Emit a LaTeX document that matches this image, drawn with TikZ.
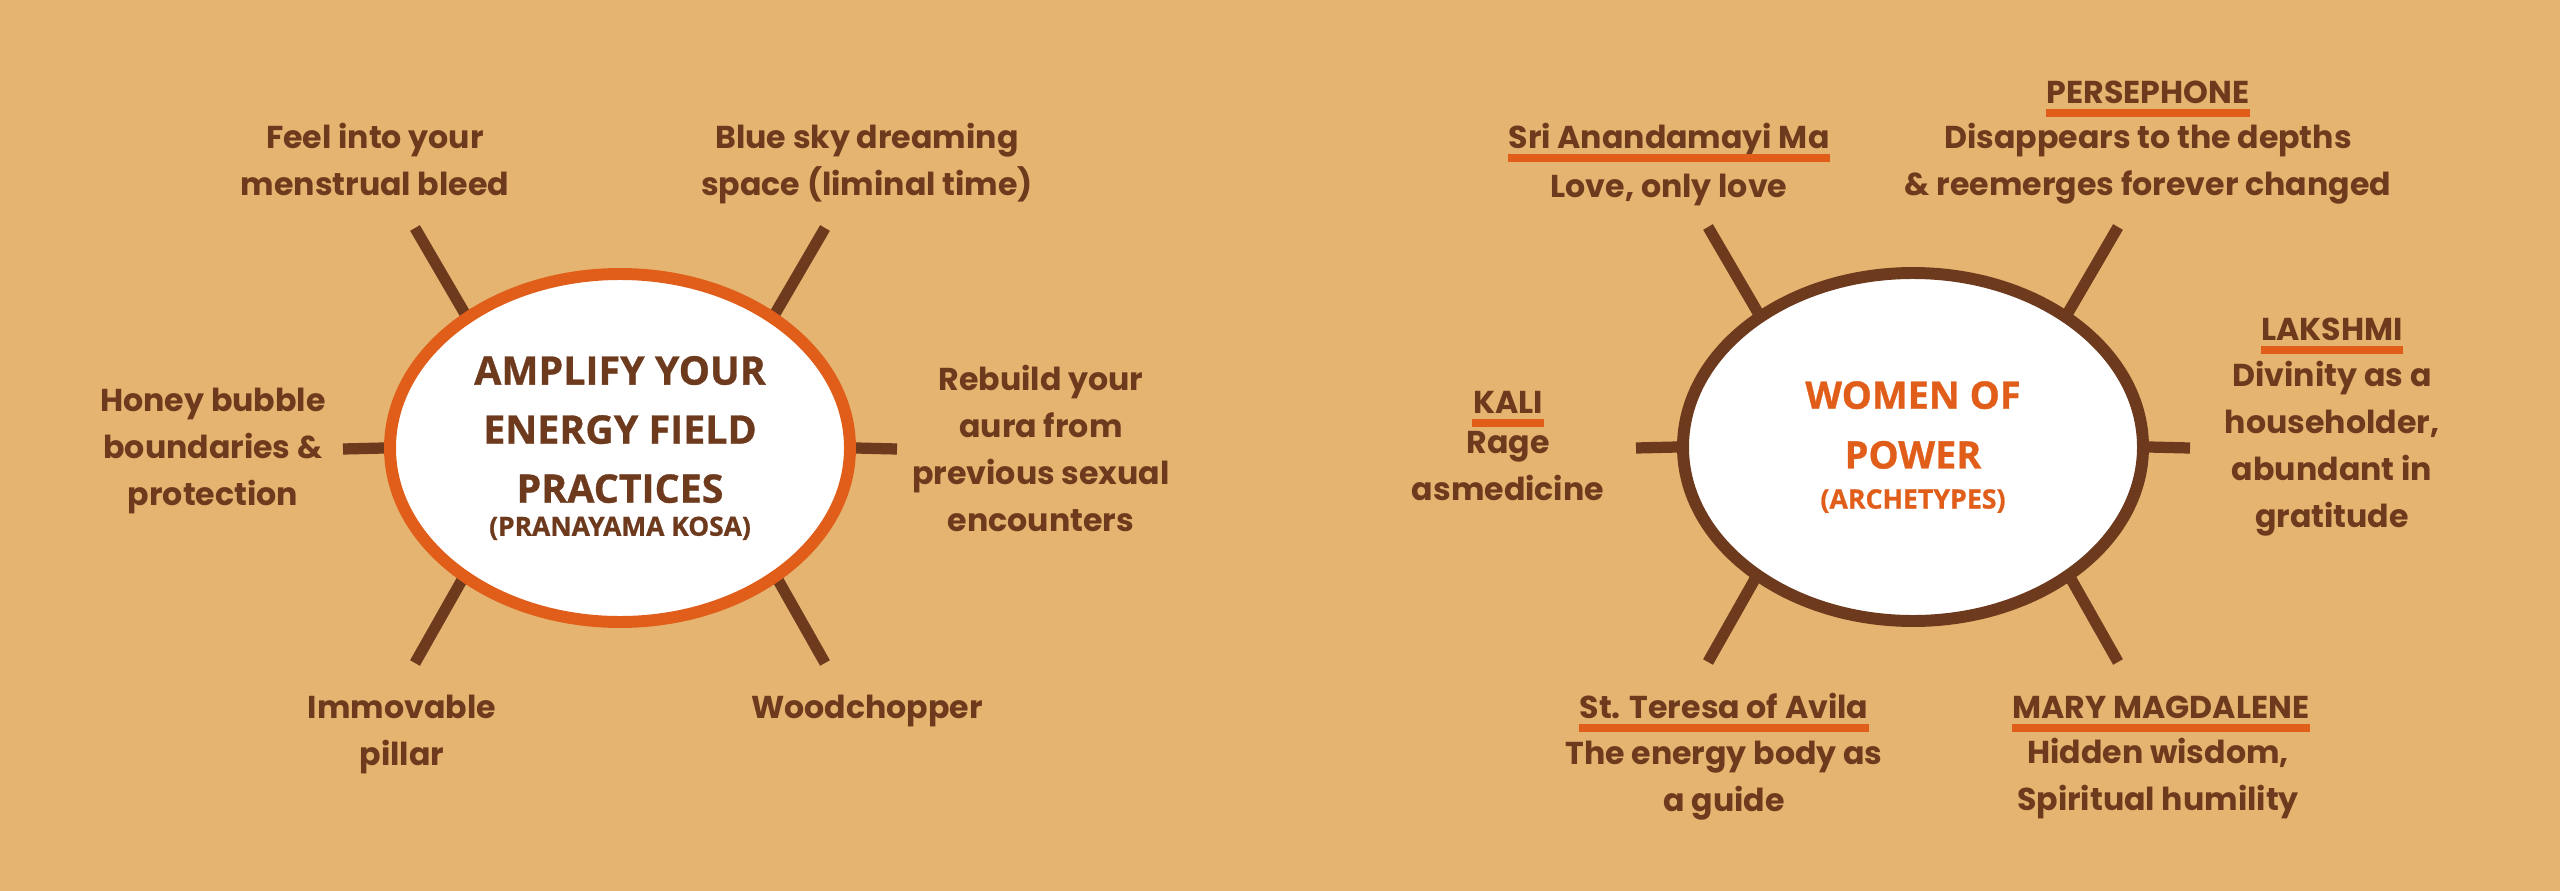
\documentclass[tikz,border=0pt]{standalone}
\usepackage{fontspec}
\setmainfont{Poppins}
\newfontfamily\hubfont{Open Sans}[BoldFeatures={FakeBold=0.8}]
\usetikzlibrary{shapes.geometric, calc, backgrounds}
\definecolor{sand}{RGB}{228, 180, 112}
\definecolor{bark}{RGB}{110, 58, 30}
\definecolor{ember}{RGB}{224, 94, 26}

\begin{document}
\begin{tikzpicture}[x=0.1mm, y=-0.1mm,
  hub/.style={ellipse, fill=white, line width=3.4pt, minimum width=46mm, minimum height=34.8mm, align=center, inner sep=0pt},
  spoke/.style={bark, line width=3.2pt, shorten <=-4pt},
  leaf/.style={bark, font=\bfseries\fontsize{9}{13.3}\selectfont, align=center, anchor=base, inner sep=0pt},
  uline/.style={ember, line width=2pt}]
  % The two hubs
  \node[hub, draw=ember, text=bark, font=\hubfont\bfseries\fontsize{11.2}{16.8}\selectfont] (amp) at (620,448)
    {AMPLIFY YOUR\\ENERGY FIELD\\PRACTICES\\[-7.4pt]{\fontsize{7.5}{9}\selectfont (PRANAYAMA KOSA)}};
  \node[hub, draw=bark, text=ember, font=\hubfont\bfseries\fontsize{10.8}{17}\selectfont] (wop) at (1913,447)
    {WOMEN OF\\POWER\\[-5.6pt]{\fontsize{7.6}{9}\selectfont (ARCHETYPES)}};
  % Practices round the left hub (placed at the last baseline)
  \node[leaf] (feel) at (375,195) {Feel into your\\menstrual bleed};
  \node[leaf] (blue) at (867,195) {Blue sky dreaming\\space (liminal time)};
  \node[leaf] (honey) at (213,505) {Honey bubble\\boundaries \&\\protection};
  \node[leaf] (rebuild) at (1041,531) {Rebuild your\\aura from\\previous sexual\\encounters};
  \node[leaf] (pillar) at (402,765) {Immovable\\pillar};
  \node[leaf] (wood) at (867,718) {Woodchopper};
  % Archetypes round the right hub
  \node[leaf] (sri) at (1669,148) {Sri Anandamayi Ma};
  \node[leaf] (sritxt) at (1669,197) {Love, only love};
  \node[leaf] (perse) at (2148,103) {PERSEPHONE};
  \node[leaf] (persetxt) at (2148,195) {Disappears to the depths\\\& reemerges forever changed};
  \node[leaf] (lak) at (2332,340) {LAKSHMI};
  \node[leaf] (laktxt) at (2332,527) {Divinity as a\\householder,\\abundant in\\gratitude};
  \node[leaf] (kali) at (1508,413) {KALI};
  \node[leaf] (kalitxt) at (1508,500) {Rage\\asmedicine};
  \node[leaf] (teresa) at (1724,718) {St. Teresa of Avila};
  \node[leaf] (teresatxt) at (1724,811) {The energy body as\\a guide};
  \node[leaf] (mary) at (2161,718) {MARY MAGDALENE};
  \node[leaf] (marytxt) at (2158,810) {Hidden wisdom,\\Spiritual humility};
  % Underlined names
  \foreach \h in {sri,perse,lak,kali,teresa,mary} {
    \draw[uline] ($(\h.base west)+(0,10)$) -- ($(\h.base east)+(0,10)$);
  }
  \begin{scope}[on background layer]
    \fill[sand] (0,0) rectangle (2560,891);
    % Spokes - tucked under the rims
    \foreach \h in {amp,wop} {
      \foreach \a/\dx/\dy in {139/-205/-220, 41/205/-220, 180/-277/1, 0/277/1, 220/-205/215, 320/205/215} {
        \coordinate (\h-\a) at ($(\h)+(\dx,\dy)$);
        \draw[spoke] (\h.\a) -- (\h-\a);
      }
    }
  \end{scope}
\end{tikzpicture}
\end{document}
